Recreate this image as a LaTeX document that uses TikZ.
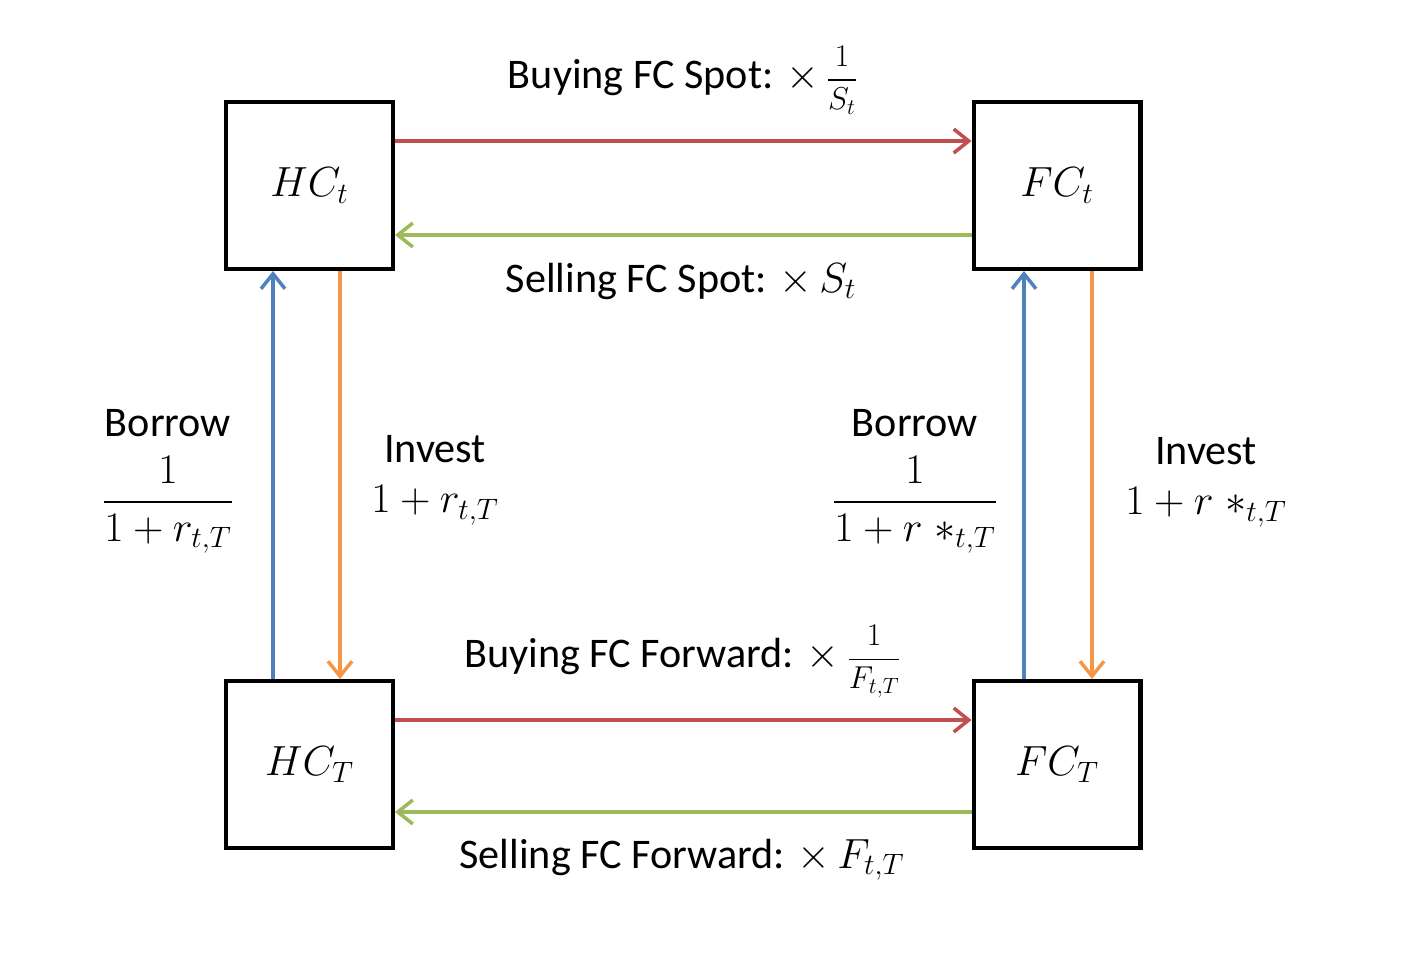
\RequirePackage{fix-cm}
\documentclass[tikz,border=0pt]{standalone}
\usepackage[no-math]{fontspec}
\setmainfont{Carlito}
\usepackage{amsmath}
\usetikzlibrary{arrows.meta}

\definecolor{buyred}{HTML}{C0504D}
\definecolor{sellgreen}{HTML}{9BBB59}
\definecolor{borrowblue}{HTML}{4F81BD}
\definecolor{investorange}{HTML}{F79646}

\newcommand{\ratefrac}[2]{{\fontsize{18}{20}\selectfont$\displaystyle\frac{#1}{#2}$}}

\begin{document}
\begin{tikzpicture}[x=0.02cm, y=-0.02cm]
        \tikzset{acct/.style={draw, line width=2.3pt, minimum size=3.34cm, font=\fontsize{24}{29}\selectfont}}
        \tikzset{flow/.style={-{Straight Barb[length=3mm, width=4.8mm]}, line width=2pt}}
        \tikzset{lbl/.style={font=\fontsize{24}{29}\selectfont, align=center}}
        \useasboundingbox (0,0) rectangle (1406,964);

        % currency positions
        \node[acct] (HCt) at (309.5,185.5) {$HC_t$};
        \node[acct] (FCt) at (1057,185.5) {$FC_t$};
        \node[acct] (HCT) at (309.5,764.5) {$HC_T$};
        \node[acct] (FCT) at (1057,764.5) {$FC_T$};

        % spot and forward exchange
        \draw[flow, buyred] ([yshift=0.89cm]HCt.east) -- ([yshift=0.89cm]FCt.west);
        \draw[flow, sellgreen] ([yshift=-0.99cm]FCt.west) -- ([yshift=-0.99cm]HCt.east);
        \draw[flow, buyred] ([yshift=0.89cm]HCT.east) -- ([yshift=0.89cm]FCT.west);
        \draw[flow, sellgreen] ([yshift=-0.95cm]FCT.west) -- ([yshift=-0.95cm]HCT.east);

        % borrowing and investing
        \draw[flow, borrowblue] ([xshift=-0.73cm]HCT.north) -- ([xshift=-0.73cm]HCt.south);
        \draw[flow, investorange] ([xshift=0.61cm]HCt.south) -- ([xshift=0.61cm]HCT.north);
        \draw[flow, borrowblue] ([xshift=-0.66cm]FCT.north) -- ([xshift=-0.66cm]FCt.south);
        \draw[flow, investorange] ([xshift=0.70cm]FCt.south) -- ([xshift=0.70cm]FCT.north);

        \node[lbl, anchor=base] (buyspot) at (683,88) {Buying FC Spot: $\times$\,\ratefrac{1}{S_t}};
        \node[lbl, anchor=base] (sellspot) at (681,292) {Selling FC Spot: $\times\,S_t$};
        \node[lbl, anchor=base] (buyfwd) at (683,667) {Buying FC Forward: $\times$\,\ratefrac{1}{F_{t,T}}};
        \node[lbl, anchor=base] (sellfwd) at (682,868) {Selling FC Forward: $\times\,F_{t,T}$};

        \node[lbl, anchor=base] (borrowH) at (168,436) {Borrow};
        \node[lbl, inner sep=0pt] (borrowHrate) at (168,505) {$\displaystyle\frac{1}{1+r_{t,T}}$};
        \node[lbl] (investH) at (435,480) {Invest\\ $1+r_{t,T}$};
        \node[lbl, anchor=base] (borrowF) at (915,436) {Borrow};
        \node[lbl, inner sep=0pt] (borrowFrate) at (915,505) {$\displaystyle\frac{1}{1+r\;{*}_{t,T}}$};
        \node[lbl] (investF) at (1206,482) {Invest\\ $1+r\;{*}_{t,T}$};
\end{tikzpicture}
\end{document}
